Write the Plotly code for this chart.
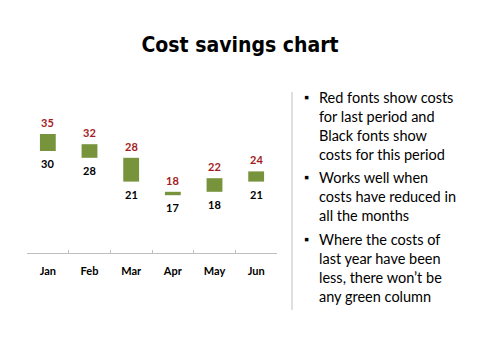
import plotly.graph_objects as go

months = ["Jan", "Feb", "Mar", "Apr", "May", "Jun"]
last_period = [35, 32, 28, 18, 22, 24]
this_period = [30, 28, 21, 17, 18, 21]
savings = [l - t for l, t in zip(last_period, this_period)]

bullets = [
    "Red fonts show costs<br>for last period and<br>Black fonts show<br>costs for this period",
    "Works well when<br>costs have reduced in<br>all the months",
    "Where the costs of<br>last year have been<br>less, there won\u2019t be<br>any green column",
]

FONT = "Lato, Open Sans, sans-serif"

fig = go.Figure()
fig.add_trace(go.Bar(
    x=months, y=savings, base=this_period,
    marker=dict(color="#77933C", line=dict(width=0)),
    width=0.38, hoverinfo="skip", showlegend=False,
))

for m, l, t in zip(months, last_period, this_period):
    fig.add_annotation(x=m, y=l, text=f"<b>{l}</b>", showarrow=False,
                       yanchor="bottom", yshift=3,
                       font=dict(family=FONT, size=11, color="#A31C22"))
    fig.add_annotation(x=m, y=t, text=f"<b>{t}</b>", showarrow=False,
                       yanchor="top", yshift=-4,
                       font=dict(family=FONT, size=11, color="#000000"))

fig.update_layout(
    width=480, height=360,
    margin=dict(l=27, r=203, t=117, b=107),
    paper_bgcolor="white", plot_bgcolor="white",
    title=dict(text="<b>Cost savings chart</b>", x=0.5, xanchor="center",
               y=1 - 45 / 360, yanchor="middle",
               font=dict(family="DejaVu Sans Condensed, sans-serif",
                         size=21, color="#000000")),
    xaxis=dict(showline=True, linecolor="#BFBFBF", linewidth=1,
               ticks="inside", ticklen=3, tickcolor="#BFBFBF", tickson="boundaries",
               showgrid=False, zeroline=False, ticklabelstandoff=8,
               tickfont=dict(family=FONT, size=11, color="#000000"),
               tickprefix="<b>", ticksuffix="</b>"),
    yaxis=dict(range=[0, 40], visible=False, showgrid=False, zeroline=False),
)


def px(xp):
    return (xp - 27) / 250


def py(yp):
    return (253 - yp) / 136


fig.add_shape(type="line", xref="paper", yref="paper",
              x0=px(292), x1=px(292), y0=py(92), y1=py(310),
              line=dict(color="#BFBFBF", width=1))

tops = [87, 167, 229]
for top, txt in zip(tops, bullets):
    fig.add_annotation(xref="paper", yref="paper", x=px(302), y=py(top),
                       xanchor="left", yanchor="top", showarrow=False,
                       text="\u25aa", font=dict(family=FONT, size=13, color="#000000"))
    fig.add_annotation(xref="paper", yref="paper", x=px(317), y=py(top),
                       xanchor="left", yanchor="top", showarrow=False, align="left",
                       text=txt, font=dict(family=FONT, size=14.5, color="#000000"))

fig.write_html("out.html", config={"displayModeBar": False},
               post_script="document.body.style.margin='0';")
